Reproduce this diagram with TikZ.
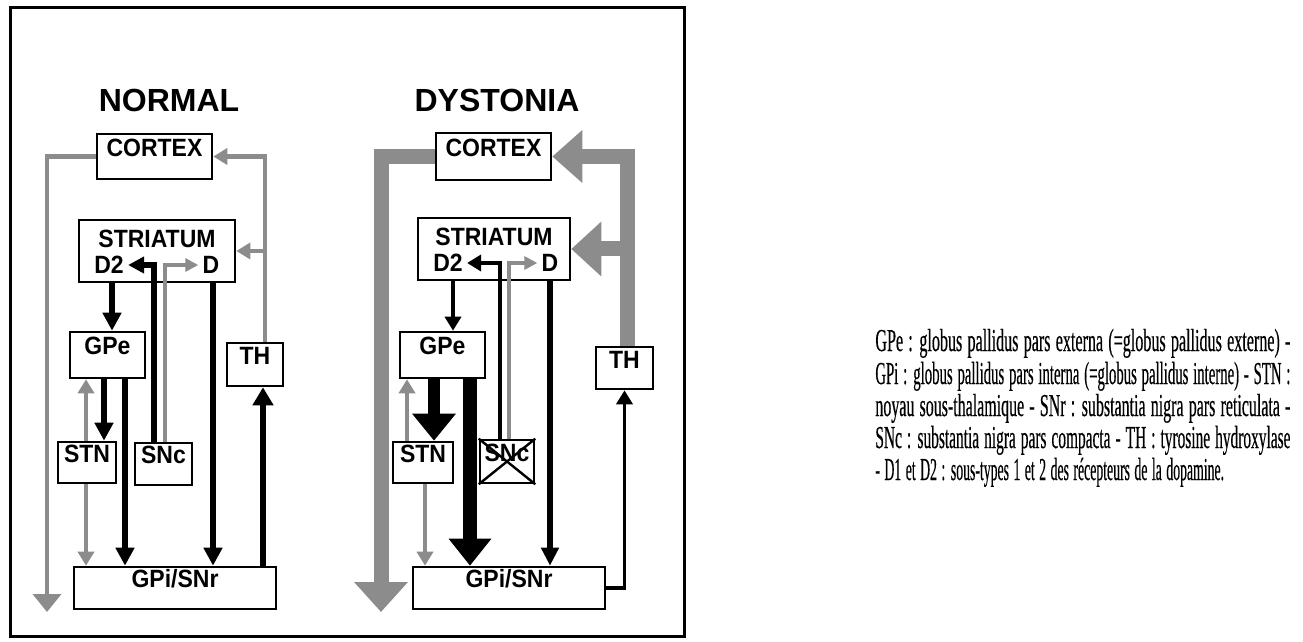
\documentclass[tikz,border=0pt]{standalone}
\usepackage{fontspec}
\usepackage{graphicx}
\setmainfont{Liberation Serif}
\newfontfamily\labfont{Liberation Sans}[FakeStretch=0.92]
\newfontfamily\ttlfont{Liberation Sans}
\newfontfamily\capfont{Liberation Serif}[FakeStretch=0.43,FakeBold=0.3]
\usetikzlibrary{arrows.meta,fit,calc}
\definecolor{hgray}{HTML}{8C8C8C}
\newcommand{\capsetup}{\capfont\fontsize{16}{18}\selectfont\spaceskip=0.14em plus 0.5em minus 0.08em\relax}
\newcommand{\capline}[1]{\resizebox{207.5pt}{\height}{#1}}
\begin{document}
\begin{tikzpicture}[x=0.5pt,y=-0.5pt,
  box/.style={draw=black, line width=1.3pt, inner sep=0pt, font=\labfont\bfseries\fontsize{12.5}{14}\selectfont},
  txt/.style={inner sep=2pt, font=\labfont\bfseries\fontsize{12.5}{14}\selectfont},
  ttl/.style={inner sep=0pt, font=\ttlfont\bfseries\fontsize{16}{18}\selectfont},
  captxt/.style={inner sep=0pt, font=\capsetup},
  blk/.style={draw=black, line width=2.6pt, -{Triangle[width=9pt,length=9pt]}},
  blkthin/.style={draw=black, line width=1.9pt, -{Triangle[width=8pt,length=7pt]}},
  gsm/.style={draw=hgray, line width=2.1pt, -{Triangle[width=8pt,length=7pt]}},
  gthin/.style={draw=hgray, line width=1.6pt, -{Triangle[width=6.5pt,length=6.5pt]}},
  gbig/.style={draw=hgray, line width=7.5pt, line join=miter, -{Triangle[width=26pt,length=15pt]}},
  bbig/.style={draw=black, line width=6.5pt, -{Triangle[width=21pt,length=13.5pt]}}
]
\useasboundingbox (0,0) rectangle (1303,642);
\fill[white] (0,0) rectangle (1303,642);
\draw[line width=1.5pt] (10,8) rectangle (684,636);

% titles
\node[ttl] (tN) at (169,100) {NORMAL};
\node[ttl] (tD) at (497,100) {DYSTONIA};

% ---------- NORMAL ----------
\node[box, fit={(97,134) (212,179)}] (cxN) {CORTEX};
\node[box, fit={(79,220) (235,282)}] (stN) {};
\node[txt] (stNt) at (157,239) {STRIATUM};
\node[txt] (d2N) at (109,265) {D2};
\node[txt] (dN) at (211,265) {D};
\node[box, fit={(70,332) (145,378)}] (gpeN) {GPe};
\node[box, fit={(227,343) (283,386)}] (thN) {TH};
\node[box, fit={(58,442) (116,483)}] (stnN) {STN};
\node[box, fit={(135,443) (192,485)}] (sncN) {SNc};
\node[box, fit={(74,567) (276,609)}] (gpiN) {GPi/SNr};

\coordinate (eN) at (47,612);
\coordinate (xN1) at (265,0);
\coordinate (xN2) at (112,0);
\coordinate (xN3) at (213,0);
\coordinate (xN4) at (154,0);
\coordinate (xN5) at (165,0);
\coordinate (xN6) at (104,0);
\coordinate (xN7) at (125,0);
\coordinate (xN8) at (86,0);
\coordinate (xN9) at (263,0);

\draw[gsm, -{Triangle[width=14pt,length=9pt]}] (cxN.west) -| (eN);
\draw[gsm] (xN1 |- thN.north) |- (cxN.east);
\draw[gsm] (xN1 |- stN.east) -- (stN.east);
\draw[blk] (xN2 |- stN.south) -- (xN2 |- gpeN.north);
\draw[blk] (xN3 |- stN.south) -- (xN3 |- gpiN.north);
\draw[blk, -{Triangle[width=8pt,length=8pt]}] (xN4 |- sncN.north) |- (d2N.east);
\draw[gthin] (xN5 |- sncN.north) |- (dN.west);
\draw[blk] (xN6 |- gpeN.south) -- (xN6 |- stnN.north);
\draw[blk] (xN7 |- gpeN.south) -- (xN7 |- gpiN.north);
\draw[gsm] (xN8 |- stnN.north) -- (xN8 |- gpeN.south);
\draw[gsm] (xN8 |- stnN.south) -- (xN8 |- gpiN.north);
\draw[blk, -{Triangle[width=10pt,length=9pt]}] (xN9 |- gpiN.north) -- (xN9 |- thN.south);

% ---------- DYSTONIA ----------
\node[box, fit={(436,133) (551,180)}] (cxD) {CORTEX};
\node[box, fit={(418,218) (570,280)}] (stD) {};
\node[txt] (stDt) at (494,237) {STRIATUM};
\node[txt] (d2D) at (448,263) {D2};
\node[txt] (dD) at (550,263) {D};
\node[box, fit={(400,332) (485,378)}] (gpeD) {GPe};
\node[box, fit={(596,347) (653,389)}] (thD) {TH};
\node[box, fit={(393,442) (453,483)}] (stnD) {STN};
\node[box, fit={(480,440) (534,483)}] (sncD) {SNc};
\node[box, fit={(413,567) (605,609)}] (gpiD) {GPi/SNr};
\draw[line width=1.2pt] (sncD.north west) -- (sncD.south east);
\draw[line width=1.2pt] (sncD.south west) -- (sncD.north east);

\coordinate (eD) at (381,612);
\coordinate (xD1) at (627,0);
\coordinate (xD2) at (453,0);
\coordinate (xD3) at (550,0);
\coordinate (xD4) at (500,0);
\coordinate (xD5) at (509,0);
\coordinate (xD6) at (434,0);
\coordinate (xD7) at (470,0);
\coordinate (xD8) at (407,0);
\coordinate (xD9) at (425,0);

\draw[gbig] (cxD.west) -| (eD);
\draw[gbig, -{Triangle[width=25.5pt,length=15pt]}] (xD1 |- thD.north) |- (cxD.east);
\draw[gbig, -{Triangle[width=26.5pt,length=15pt]}] (xD1 |- stD.east) -- (stD.east);
\draw[blkthin] (xD2 |- stD.south) -- (xD2 |- gpeD.north);
\draw[blk, -{Triangle[width=8.5pt,length=9pt]}] (xD3 |- stD.south) -- (xD3 |- gpiD.north);
\draw[blkthin] (xD4 |- sncD.north) |- (d2D.east);
\draw[gthin] (xD5 |- sncD.north) |- (dD.west);
\draw[bbig, line width=6pt] (xD6 |- gpeD.south) -- (xD6 |- stnD.north);
\draw[bbig, line width=7pt, -{Triangle[width=20.5pt,length=13.5pt]}] (xD7 |- gpeD.south) -- (xD7 |- gpiD.north);
\draw[gthin, line width=1.8pt, -{Triangle[width=8pt,length=7pt]}] (xD8 |- stnD.north) -- (xD8 |- gpeD.south);
\draw[gthin, line width=1.8pt, -{Triangle[width=8pt,length=7pt]}] (xD9 |- stnD.south) -- (xD9 |- gpiD.north);
\draw[blkthin] (gpiD.east) -| (thD.south);

% ---------- caption ----------
\node[captxt, anchor=base west] (c1) at (875,351) {\capline{GPe : globus pallidus pars externa (=globus pallidus externe) -}};
\node[captxt, anchor=base west] (c2) at (875,384) {\capline{GPi : globus pallidus pars interna (=globus pallidus interne) - STN :}};
\node[captxt, anchor=base west] (c3) at (875,416) {\capline{noyau sous-thalamique - SNr : substantia nigra pars reticulata -}};
\node[captxt, anchor=base west] (c4) at (875,448) {\capline{SNc : substantia nigra pars compacta - TH : tyrosine hydroxylase}};
\node[captxt, anchor=base west] (c5) at (875,480) {- D1 et D2 : sous-types 1 et 2 des récepteurs de la dopamine.};
\end{tikzpicture}
\end{document}
